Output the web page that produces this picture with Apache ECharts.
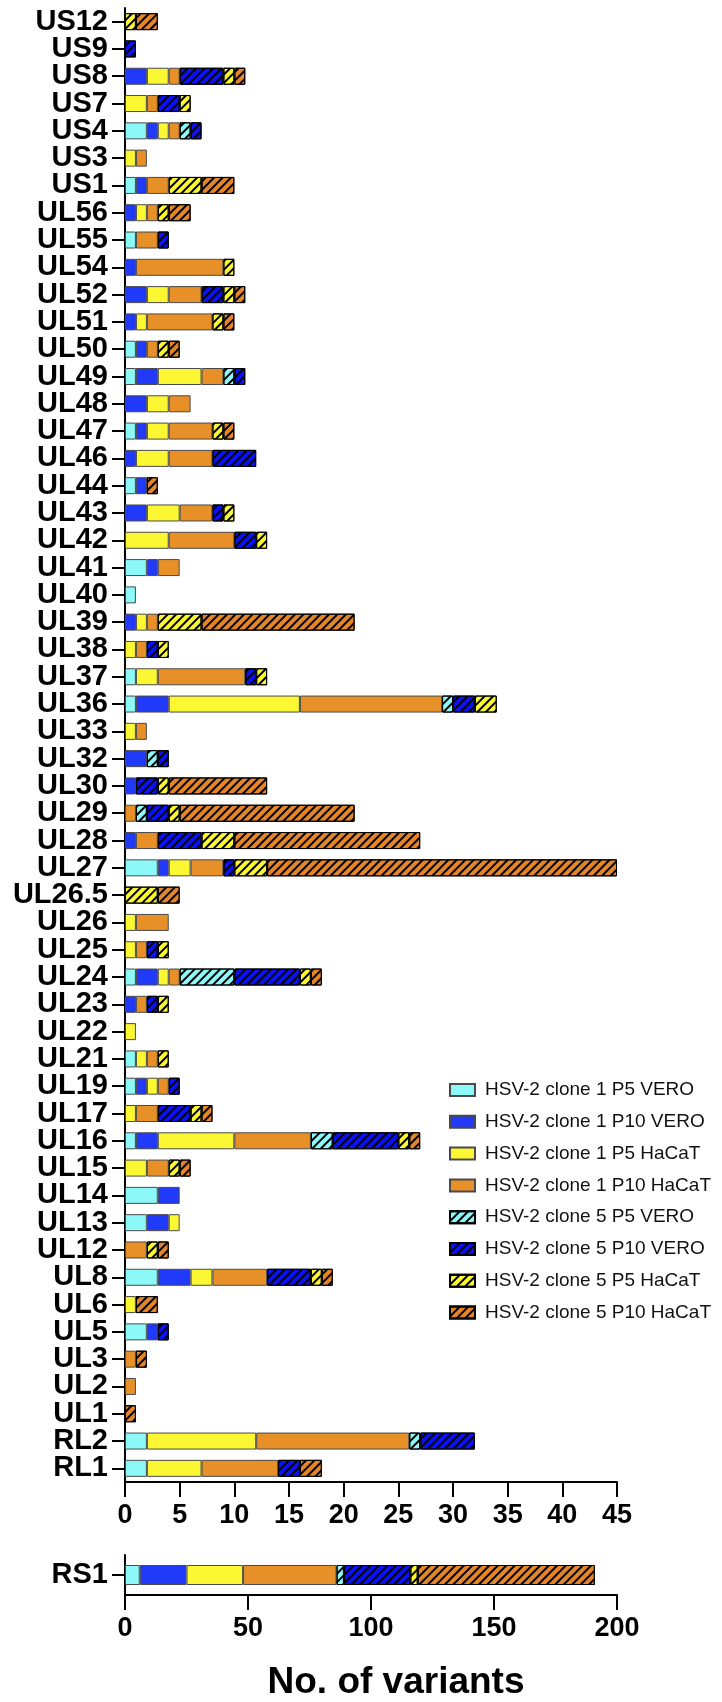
<!DOCTYPE html>
<html>
<head>
<meta charset="utf-8">
<script src="https://cdn.jsdelivr.net/npm/echarts@6/dist/echarts.min.js"></script>
<style>
  html, body { margin: 0; padding: 0; background: #ffffff; }
  #chart { width: 722px; height: 1702px; }
</style>
</head>
<body>
<div id="chart"></div>
<script>
// Genes, listed top to bottom
const genes = ['US12','US9','US8','US7','US4','US3','US1','UL56','UL55','UL54','UL52','UL51','UL50','UL49','UL48','UL47','UL46','UL44','UL43','UL42','UL41','UL40','UL39','UL38','UL37','UL36','UL33','UL32','UL30','UL29','UL28','UL27','UL26.5','UL26','UL25','UL24','UL23','UL22','UL21','UL19','UL17','UL16','UL15','UL14','UL13','UL12','UL8','UL6','UL5','UL3','UL2','UL1','RL2','RL1'];

const seriesNames = [
  'HSV-2 clone 1 P5 VERO',
  'HSV-2 clone 1 P10 VERO',
  'HSV-2 clone 1 P5 HaCaT',
  'HSV-2 clone 1 P10 HaCaT',
  'HSV-2 clone 5 P5 VERO',
  'HSV-2 clone 5 P10 VERO',
  'HSV-2 clone 5 P5 HaCaT',
  'HSV-2 clone 5 P10 HaCaT'
];

// Number of variants per gene, one array per passage / cell line
const clone1P5Vero   = [0,0,0,0,2,0,1,0,1,0,0,0,1,1,0,1,0,1,0,0,2,1,0,0,1,1,0,0,0,0,0,3,0,0,0,1,0,0,1,1,0,1,0,3,2,0,3,0,2,0,0,0,2,2];
const clone1P10Vero  = [0,0,2,0,1,0,1,1,0,1,2,1,1,2,2,1,1,1,2,0,1,0,1,0,0,3,0,2,1,0,1,1,0,0,0,2,1,0,0,1,0,2,0,2,2,0,3,0,1,0,0,0,0,0];
const clone1P5HaCaT  = [0,0,2,2,1,1,0,1,0,0,2,1,0,4,2,2,3,0,3,4,0,0,1,1,2,12,1,0,0,0,0,2,0,1,1,1,0,1,1,1,1,7,2,0,1,0,2,1,0,0,0,0,10,5];
const clone1P10HaCaT = [0,0,1,1,1,1,2,1,2,8,3,6,1,2,2,4,4,0,3,6,2,0,1,1,8,13,1,0,0,1,2,3,0,3,1,1,1,0,1,1,2,7,2,0,0,2,5,0,0,1,1,0,14,7];
const clone5P5Vero   = [0,0,0,0,1,0,0,0,0,0,0,0,0,1,0,0,0,0,0,0,0,0,0,0,0,1,0,1,0,1,0,0,0,0,0,5,0,0,0,0,0,2,0,0,0,0,0,0,0,0,0,0,1,0];
const clone5P10Vero  = [0,1,4,2,1,0,0,0,1,0,2,0,0,1,0,0,4,0,1,2,0,0,0,1,1,2,0,1,2,2,4,1,0,0,1,6,1,0,0,1,3,6,0,0,0,0,4,0,1,0,0,0,5,2];
const clone5P5HaCaT  = [1,0,1,1,0,0,3,1,0,1,1,1,1,0,0,1,0,0,1,1,0,0,4,1,1,2,0,0,1,1,3,3,3,0,1,1,1,0,1,0,1,1,1,0,0,1,1,0,0,0,0,0,0,0];
const clone5P10HaCaT = [2,0,1,0,0,0,3,2,0,0,1,1,1,0,0,1,0,1,0,0,0,0,14,0,0,0,0,0,9,16,17,32,2,0,0,1,0,0,0,0,1,1,1,0,0,1,1,2,0,1,0,1,0,2];

// RS1 plotted on its own wider scale
const rs1Gene = ['RS1'];
const rs1Values = [6, 19, 23, 38, 3, 27, 3, 72];

// Axis tick labels
const mainTicks = [0, 5, 10, 15, 20, 25, 30, 35, 40, 45];
const rs1Ticks = [0, 50, 100, 150, 200];
const axisTitle = 'No. of variants';

const seriesValues = [clone1P5Vero, clone1P10Vero, clone1P5HaCaT, clone1P10HaCaT,
                      clone5P5Vero, clone5P10Vero, clone5P5HaCaT, clone5P10HaCaT];

const fillColors = ['#8CF8F8', '#2139F8', '#FBF833', '#E69027',
                    '#8CF8F8', '#0A12F2', '#FBF833', '#E5852A'];
const hatched = [false, false, false, false, true, true, true, true];

const FONT = '"Liberation Sans", Arial, Helvetica, sans-serif';

function styleFor(i) {
  const s = {
    color: fillColors[i],
    borderColor: hatched[i] ? '#000000' : '#4a4a4a',
    borderWidth: 1
  };
  if (hatched[i]) {
    s.decal = {
      symbol: 'rect',
      symbolSize: 1,
      dashArrayX: [1, 0],
      dashArrayY: [2, 3.6],
      rotation: -Math.PI / 4,
      color: '#000000'
    };
  }
  return s;
}

const series = [];
seriesNames.forEach((name, i) => {
  series.push({
    name: name,
    type: 'bar',
    stack: 'genes',
    xAxisIndex: 0,
    yAxisIndex: 0,
    barWidth: 17,
    data: seriesValues[i].map(v => (v === 0 ? '-' : v)),
    itemStyle: styleFor(i)
  });
});
seriesNames.forEach((name, i) => {
  series.push({
    name: name,
    type: 'bar',
    stack: 'rs1',
    xAxisIndex: 1,
    yAxisIndex: 1,
    barWidth: 20,
    data: [rs1Values[i] === 0 ? '-' : rs1Values[i]],
    itemStyle: styleFor(i)
  });
});

const axisLine = { show: true, lineStyle: { color: '#000000', width: 2 } };
const xTick = { show: true, inside: false, length: 15, lineStyle: { color: '#000000', width: 2 } };
const xLabel = { fontFamily: FONT, fontWeight: 'bold', fontSize: 27, color: '#000000', margin: 20 };
const yTick = { show: true, alignWithLabel: true, length: 13, lineStyle: { color: '#000000', width: 2 } };
const yLabel = { fontFamily: FONT, fontWeight: 'bold', fontSize: 29, color: '#000000', margin: 17, interval: 0 };

const chart = echarts.init(document.getElementById('chart'), null, { renderer: 'canvas' });
chart.setOption({
  animation: false,
  backgroundColor: '#ffffff',
  legend: {
    orient: 'vertical',
    left: 449,
    top: 1080,
    padding: 0,
    itemWidth: 25,
    itemHeight: 12,
    itemGap: 11.8,
    icon: 'rect',
    selectedMode: false,
    data: seriesNames,
    textStyle: { fontFamily: FONT, fontSize: 19, color: '#111111', lineHeight: 20, padding: [0, 0, 0, 5] }
  },
  grid: [
    { left: 125, top: 8, width: 492, height: 1474 },
    { left: 125, top: 1555, width: 492, height: 40 }
  ],
  xAxis: [
    {
      type: 'value', gridIndex: 0,
      min: mainTicks[0], max: mainTicks[mainTicks.length - 1],
      interval: mainTicks[1] - mainTicks[0],
      axisLine: axisLine, axisTick: xTick, axisLabel: xLabel,
      splitLine: { show: false }
    },
    {
      type: 'value', gridIndex: 1,
      min: rs1Ticks[0], max: rs1Ticks[rs1Ticks.length - 1],
      interval: rs1Ticks[1] - rs1Ticks[0],
      axisLine: axisLine, axisTick: xTick, axisLabel: xLabel,
      splitLine: { show: false }
    }
  ],
  yAxis: [
    {
      type: 'category', gridIndex: 0, inverse: true, data: genes,
      axisLine: axisLine, axisTick: yTick, axisLabel: yLabel
    },
    {
      type: 'category', gridIndex: 1, data: rs1Gene,
      axisLine: axisLine, axisTick: yTick, axisLabel: yLabel
    }
  ],
  graphic: [{
    type: 'text',
    x: 396,
    y: 1683,
    style: {
      text: axisTitle,
      font: 'bold 37px ' + FONT,
      fill: '#000000',
      textAlign: 'center',
      textVerticalAlign: 'middle'
    }
  }],
  series: series
});
</script>
</body>
</html>
